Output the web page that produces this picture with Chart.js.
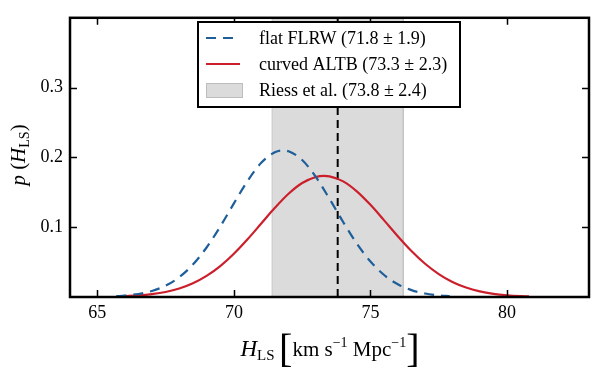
<!DOCTYPE html>
<html>
<head>
<meta charset="utf-8">
<script src="https://cdn.jsdelivr.net/npm/chart.js@4"></script>
<style>
  body { margin: 0; background: #fff; }
  canvas { display: block; }
</style>
</head>
<body>
<canvas id="myChart" width="600" height="373"></canvas>
<script>
// H_LS values and probability density
const flatH = [65.7, 66, 66.5, 67, 67.5, 68, 68.5, 69, 69.5, 70, 70.5, 71, 71.5, 71.8, 72, 72.5, 73, 73.5, 74, 74.5, 75, 75.5, 76, 76.5, 77, 77.5, 77.9]
const flatP = [0.0012, 0.0020, 0.0043, 0.0086, 0.0162, 0.0284, 0.0465, 0.0709, 0.1009, 0.1341, 0.1662, 0.1922, 0.2074, 0.2100, 0.2088, 0.1962, 0.1720, 0.1407, 0.1074, 0.0765, 0.0508, 0.0315, 0.0182, 0.0099, 0.0050, 0.0023, 0.0012]

const curvedH = [65.7, 66, 66.5, 67, 67.5, 68, 68.5, 69, 69.5, 70, 70.5, 71, 71.5, 72, 72.5, 73, 73.3, 73.5, 74, 74.5, 75, 75.5, 76, 76.5, 77, 77.5, 78, 78.5, 79, 79.5, 80, 80.5, 80.8]
const curvedP = [0.0007, 0.0011, 0.0022, 0.0041, 0.0072, 0.0122, 0.0197, 0.0302, 0.0443, 0.0620, 0.0827, 0.1052, 0.1277, 0.1479, 0.1633, 0.1720, 0.1735, 0.1728, 0.1657, 0.1514, 0.1320, 0.1098, 0.0871, 0.0659, 0.0476, 0.0328, 0.0215, 0.0135, 0.0081, 0.0046, 0.0025, 0.0013, 0.0009]

const riessMean = 73.8
const riessLow = 71.4
const riessHigh = 76.2

const labels = ['flat FLRW (71.8 \u00b1 1.9)', 'curved ALTB (73.3 \u00b1 2.3)', 'Riess et al. (73.8 \u00b1 2.4)']
const xTicks = [65, 70, 75, 80]
const yTicks = [0.1, 0.2, 0.3]
const xRange = [64, 83]
const yRange = [0, 0.4]

const SERIF = '"Liberation Serif", "DejaVu Serif", serif'

function pts(xs, ys) { return xs.map((x, i) => ({x: x, y: ys[i]})) }

// draws a run of text pieces [text, fontsize, italic, dy] centred on cx
function drawRuns(ctx, runs, cx, cy) {
    let w = 0
    runs.forEach(r => {
        ctx.font = (r[2] ? 'italic ' : '') + r[1] + 'px ' + SERIF
        r.w = ctx.measureText(r[0]).width
        w += r.w
    })
    let x = cx - w / 2
    ctx.textBaseline = 'alphabetic'
    ctx.textAlign = 'left'
    runs.forEach(r => {
        ctx.font = (r[2] ? 'italic ' : '') + r[1] + 'px ' + SERIF
        ctx.fillText(r[0], x, cy + (r[3] || 0))
        x += r.w
    })
}

const framePlugin = {
    id: 'frame',
    afterDraw(chart) {
        const ctx = chart.ctx
        const a = chart.chartArea
        const xs = chart.scales.x, ys = chart.scales.y
        ctx.save()
        ctx.strokeStyle = '#000'
        ctx.lineWidth = 1.5
        ctx.beginPath()
        xTicks.forEach(v => {
            const px = Math.round(xs.getPixelForValue(v)) + 0.5
            ctx.moveTo(px, a.bottom); ctx.lineTo(px, a.bottom - 7)
            ctx.moveTo(px, a.top); ctx.lineTo(px, a.top + 7)
        })
        yTicks.forEach(v => {
            const py = Math.round(ys.getPixelForValue(v)) + 0.5
            ctx.moveTo(a.left, py); ctx.lineTo(a.left + 7, py)
            ctx.moveTo(a.right, py); ctx.lineTo(a.right - 7, py)
        })
        ctx.stroke()
        ctx.lineWidth = 2.5
        ctx.strokeRect(a.left, a.top, a.right - a.left, a.bottom - a.top)

        // legend box
        const lx = 198, ly = 22, lw = 262, lh = 85
        ctx.fillStyle = '#fff'
        ctx.fillRect(lx, ly, lw, lh)
        ctx.lineWidth = 2
        ctx.strokeRect(lx, ly, lw, lh)
        const ds = chart.data.datasets.filter(d => d.label)
        ds.forEach((d, i) => {
            const y = 38 + i * 26
            if (d.fill) {
                ctx.fillStyle = d.backgroundColor
                ctx.fillRect(206, y - 7, 36, 14)
                ctx.strokeStyle = '#bdbdbd'
                ctx.lineWidth = 1
                ctx.strokeRect(206.5, y - 6.5, 36, 14)
            } else {
                ctx.strokeStyle = d.borderColor
                ctx.lineWidth = d.borderWidth
                ctx.setLineDash(d.borderDash || [])
                ctx.beginPath()
                ctx.moveTo(206, y); ctx.lineTo(240, y)
                ctx.stroke()
                ctx.setLineDash([])
            }
            ctx.fillStyle = '#000'
            ctx.font = '18px ' + SERIF
            ctx.textAlign = 'left'
            ctx.textBaseline = 'middle'
            ctx.fillText(d.label, 259, y + 1)
        })

        // axis titles
        ctx.fillStyle = '#000'
        drawRuns(ctx, [['H', 23, true], ['LS', 15, false, 4], [' ', 18], ['[', 40, false, 6], ['km s', 21], ['\u22121', 14, false, -9], [' Mpc', 21], ['\u22121', 14, false, -9], [']', 40, false, 6]], 330, 356)
        ctx.translate(25, 155)
        ctx.rotate(-Math.PI / 2)
        drawRuns(ctx, [['p', 21, true], [' (', 21], ['H', 21, true], ['LS', 14, false, 4], [')', 21]], 0, 0)
        ctx.restore()
    }
}

var ctx = document.getElementById('myChart').getContext('2d')

var myChart = new Chart(ctx, {
    type: 'line',
    data: {
        datasets: [
            {
                label: labels[0],
                data: pts(flatH, flatP),
                borderColor: '#1f5f99',
                borderWidth: 2.2,
                borderDash: [10, 7],
                pointRadius: 0,
                cubicInterpolationMode: 'monotone',
                fill: false,
                order: 0
            },
            {
                label: labels[1],
                data: pts(curvedH, curvedP),
                borderColor: '#cc1f2c',
                borderWidth: 2.2,
                pointRadius: 0,
                cubicInterpolationMode: 'monotone',
                fill: false,
                order: 1
            },
            {
                label: '',
                data: pts([riessMean, riessMean], yRange),
                borderColor: '#000',
                borderWidth: 2,
                borderDash: [8, 5],
                pointRadius: 0,
                fill: false,
                order: 2
            },
            {
                label: labels[2],
                data: pts([riessLow, riessLow, riessHigh, riessHigh], [0, yRange[1], yRange[1], 0]),
                borderColor: '#c4c4c4',
                backgroundColor: '#dbdbdb',
                borderWidth: 1,
                pointRadius: 0,
                tension: 0,
                fill: 'origin',
                order: 3
            }
        ]
    },
    options: {
        responsive: false,
        animation: false,
        layout: { padding: { left: 0, right: 11, top: 12, bottom: 0 } },
        plugins: { legend: { display: false }, tooltip: { enabled: false } },
        scales: {
            x: {
                type: 'linear',
                min: xRange[0],
                max: xRange[1],
                afterBuildTicks: s => { s.ticks = xTicks.map(v => ({value: v})) },
                afterFit: s => { s.height = 76 },
                grid: { display: false, drawTicks: false },
                border: { display: false },
                ticks: { color: '#000', font: { family: SERIF, size: 18 }, padding: 5, maxRotation: 0 }
            },
            y: {
                min: yRange[0],
                max: yRange[1],
                afterBuildTicks: s => { s.ticks = yTicks.map(v => ({value: v})) },
                afterFit: s => { s.width = 70 },
                grid: { display: false, drawTicks: false },
                border: { display: false },
                ticks: { color: '#000', font: { family: SERIF, size: 18 }, padding: 7, callback: v => v.toFixed(1) }
            }
        }
    },
    plugins: [framePlugin]
})
</script>
</body>
</html>
